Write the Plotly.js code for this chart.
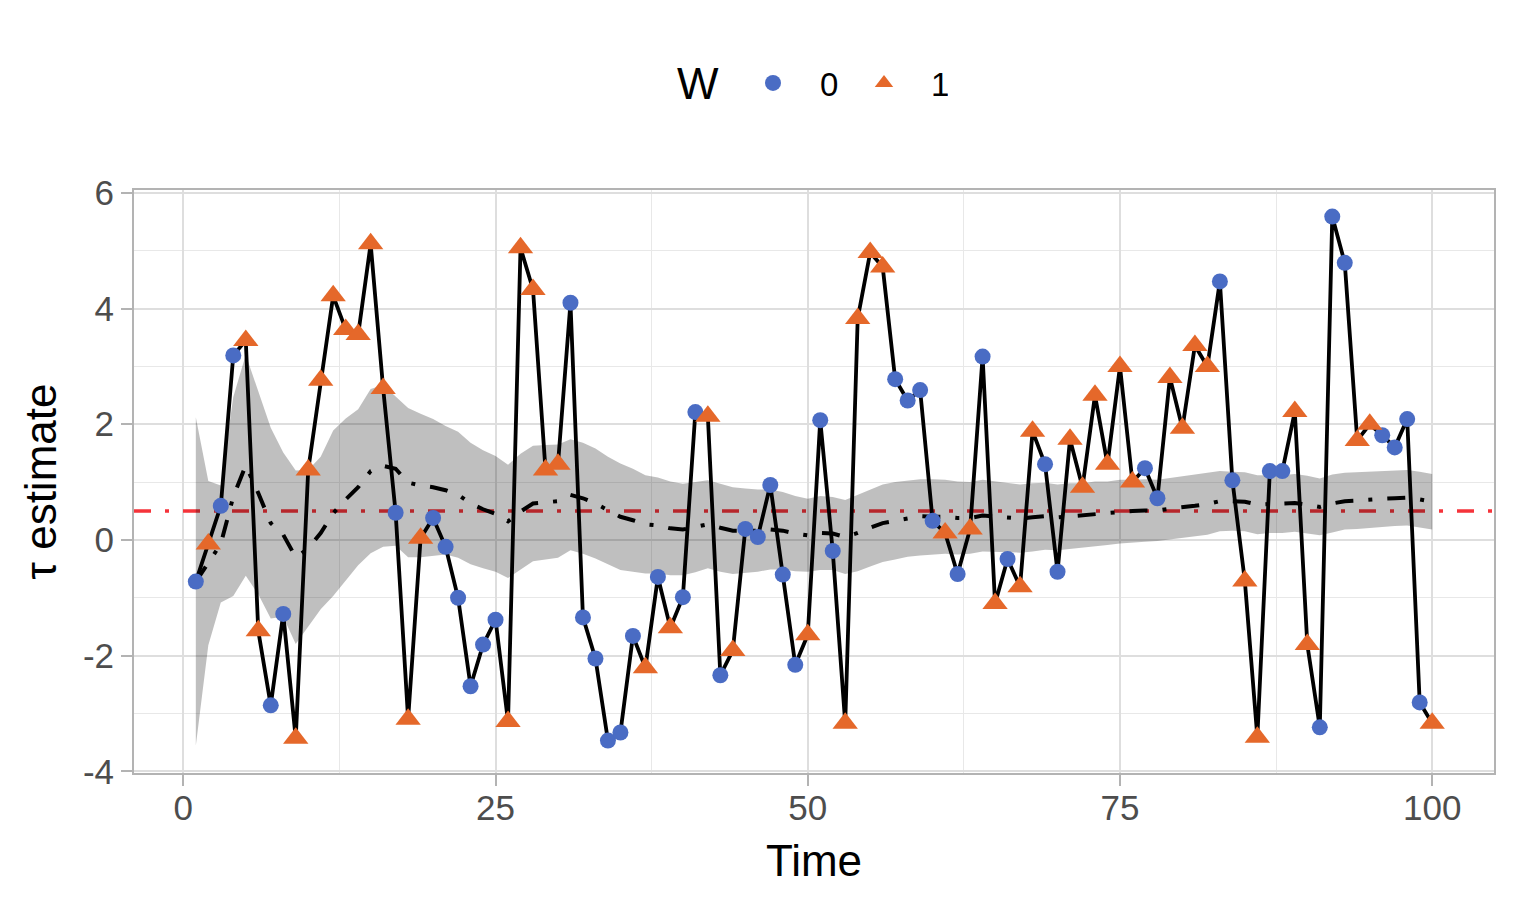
<!DOCTYPE html>
<html>
<head>
<meta charset="utf-8">
<script src="https://cdn.plot.ly/plotly-3.0.1.min.js"></script>
<style>
  body { margin: 0; background: #fff; }
  #plot { width: 1517px; height: 900px; }
</style>
</head>
<body>
<div id="plot"></div>
<script>
// time steps 1..100
var time = [];
for (var i = 1; i <= 100; i++) { time.push(i); }

// tau estimate at each step
var tauEst = [-0.72,-0.07,0.59,3.19,3.45,-1.57,-2.86,-1.28,-3.43,1.21,
  2.76,4.22,3.64,3.55,5.12,2.62,0.47,-3.10,0.03,0.38,
  -0.12,-1.00,-2.53,-1.81,-1.38,-3.14,5.05,4.33,1.21,1.31,
  4.10,-1.34,-2.05,-3.47,-3.33,-1.66,-2.21,-0.64,-1.52,-0.99,
  2.21,2.14,-2.34,-1.91,0.19,0.05,0.95,-0.60,-2.16,-1.64,
  2.07,-0.19,-3.17,3.83,4.97,4.72,2.78,2.41,2.59,0.33,
  0.12,-0.59,0.19,3.17,-1.10,-0.33,-0.81,1.88,1.31,-0.55,
  1.74,0.91,2.50,1.31,3.00,1.00,1.24,0.72,2.81,1.93,
  3.36,3.00,4.47,1.03,-0.71,-3.41,1.19,1.19,2.22,-1.81,
  -3.24,5.59,4.79,1.72,2.00,1.81,1.60,2.09,-2.81,-3.17];

// treatment W at each step
var treatW = [0,1,0,0,1,1,0,0,1,1,
  1,1,1,1,1,1,0,1,1,0,
  0,0,0,0,0,1,1,1,1,1,
  0,0,0,0,0,0,1,0,1,0,
  0,1,0,1,0,0,0,0,0,1,
  0,0,1,1,1,1,0,0,0,0,
  1,0,1,0,1,0,1,1,0,0,
  1,1,1,1,1,1,0,0,1,1,
  1,1,0,0,1,1,0,0,1,1,
  0,0,0,1,1,0,0,0,0,1];

// running mean (dash-dot) and band
var runMean = [-0.72,-0.40,-0.07,0.75,1.29,0.81,0.29,0.09,-0.30,-0.15,
  0.12,0.46,0.70,0.91,1.19,1.28,1.23,0.99,0.94,0.91,
  0.86,0.78,0.63,0.53,0.45,0.32,0.49,0.63,0.65,0.67,
  0.78,0.72,0.63,0.51,0.40,0.34,0.27,0.25,0.20,0.18,
  0.22,0.27,0.21,0.16,0.16,0.16,0.18,0.16,0.11,0.08,
  0.12,0.11,0.05,0.12,0.21,0.29,0.33,0.37,0.41,0.40,
  0.40,0.38,0.38,0.42,0.40,0.39,0.37,0.39,0.41,0.39,
  0.41,0.42,0.45,0.46,0.49,0.50,0.51,0.51,0.54,0.56,
  0.59,0.62,0.67,0.67,0.66,0.61,0.62,0.62,0.64,0.61,
  0.57,0.63,0.67,0.68,0.70,0.71,0.72,0.73,0.70,0.66];

var bandUpper = [2.12,1.02,0.94,2.47,3.20,2.56,1.94,1.51,1.20,1.21,
  1.44,1.89,2.10,2.26,2.61,2.68,2.48,2.28,2.18,2.09,
  1.97,1.87,1.68,1.55,1.45,1.30,1.49,1.63,1.64,1.65,
  1.74,1.68,1.58,1.44,1.32,1.23,1.12,1.08,1.01,0.97,
  1.00,1.03,0.97,0.91,0.89,0.87,0.87,0.83,0.76,0.71,
  0.76,0.74,0.69,0.78,0.88,0.96,1.00,1.03,1.05,1.05,
  1.04,1.01,1.00,1.04,1.01,0.99,0.96,0.98,0.99,0.96,
  0.98,0.98,1.01,1.01,1.04,1.04,1.05,1.04,1.07,1.09,
  1.12,1.15,1.19,1.18,1.17,1.12,1.12,1.12,1.14,1.11,
  1.06,1.13,1.16,1.17,1.19,1.19,1.20,1.21,1.18,1.14];

var bandLower = [-3.56,-1.82,-1.08,-0.97,-0.62,-0.94,-1.36,-1.33,-1.80,-1.51,
  -1.20,-0.97,-0.70,-0.44,-0.23,-0.12,-0.10,-0.30,-0.30,-0.27,
  -0.25,-0.31,-0.42,-0.49,-0.55,-0.66,-0.51,-0.37,-0.34,-0.31,
  -0.18,-0.24,-0.32,-0.42,-0.52,-0.55,-0.58,-0.58,-0.61,-0.61,
  -0.56,-0.49,-0.55,-0.59,-0.57,-0.55,-0.51,-0.51,-0.54,-0.55,
  -0.52,-0.52,-0.59,-0.54,-0.46,-0.38,-0.34,-0.29,-0.27,-0.25,
  -0.24,-0.25,-0.24,-0.20,-0.21,-0.21,-0.22,-0.20,-0.17,-0.18,
  -0.16,-0.14,-0.11,-0.09,-0.06,-0.04,-0.03,-0.02,0.01,0.03,
  0.06,0.09,0.15,0.16,0.15,0.10,0.12,0.12,0.14,0.11,
  0.08,0.13,0.18,0.19,0.21,0.23,0.24,0.25,0.22,0.18];

// true effect line
var trueTau = 0.5;
var xRange = [-3.95, 104.95];
var yRange = [-4.03, 6.05];
var xTicks = [0, 25, 50, 75, 100];
var yTicks = [-4, -2, 0, 2, 4, 6];
var yTickText = ['-4', '-2', '0', '2', '4', '6'];

var groupLabels = ['0', '1'];
var groupColors = ['#4a6cc4', '#e5682a'];
var groupSymbols = ['circle', 'triangle-up'];
var groupSizes = [16, 22];

var font = 'Liberation Sans, Arial, Helvetica, sans-serif';

var refTrace = {
    x: xRange,
    y: [trueTau, trueTau],
    mode: 'lines',
    line: { color: '#f5333a', width: 3.5, dash: '17px,14px,4px,14px' },
    showlegend: false,
    hoverinfo: 'skip'
};

var lowerTrace = {
    x: time,
    y: bandLower,
    mode: 'lines',
    line: { width: 0, color: 'rgba(0,0,0,0)' },
    showlegend: false,
    hoverinfo: 'skip'
};

var upperTrace = {
    x: time,
    y: bandUpper,
    mode: 'lines',
    fill: 'tonexty',
    fillcolor: 'rgba(0,0,0,0.25)',
    line: { width: 0, color: 'rgba(0,0,0,0)' },
    showlegend: false,
    hoverinfo: 'skip'
};

var meanTrace = {
    x: time,
    y: runMean,
    mode: 'lines',
    line: { color: '#000', width: 4, dash: '18px,15px,4px,15px' },
    showlegend: false
};

var estTrace = {
    x: time,
    y: tauEst,
    mode: 'lines',
    line: { color: '#000', width: 3.8 },
    showlegend: false
};

var data = [refTrace, lowerTrace, upperTrace, meanTrace, estTrace];

for (var g = 0; g < groupLabels.length; g++) {
    var gx = [], gy = [];
    for (var k = 0; k < time.length; k++) {
        if (String(treatW[k]) === groupLabels[g]) {
            gx.push(time[k]);
            gy.push(tauEst[k]);
        }
    }
    data.push({
        x: gx,
        y: gy,
        name: groupLabels[g],
        mode: 'markers',
        marker: { color: groupColors[g], symbol: groupSymbols[g], size: groupSizes[g] },
        showlegend: true
    });
}

var layout = {
    width: 1517,
    height: 900,
    margin: { l: 134, r: 23, t: 190, b: 127 },
    paper_bgcolor: '#fff',
    plot_bgcolor: '#fff',
    font: { family: font, color: '#000' },
    showlegend: true,
    legend: {
        orientation: 'h',
        traceorder: 'normal',
        x: (726 - 134) / 1360,
        xanchor: 'left',
        y: 1 + (190 - 83) / 583,
        yanchor: 'middle',
        font: { size: 33, color: '#000' },
        itemwidth: 84,
        entrywidth: 12
    },
    annotations: [{
        text: 'W',
        xref: 'paper', yref: 'paper',
        x: (698 - 134) / 1360, y: 1 + (190 - 83) / 583,
        xanchor: 'center', yanchor: 'middle',
        showarrow: false,
        font: { size: 44, color: '#000' }
    }],
    xaxis: {
        range: xRange,
        tickvals: xTicks,
        ticks: 'outside',
        ticklen: 11,
        tickwidth: 2,
        tickcolor: '#b3b3b3',
        tickfont: { size: 35, color: '#4d4d4d' },
        ticklabelstandoff: -8,
        showgrid: true,
        gridcolor: '#dedede',
        gridwidth: 2,
        minor: { tick0: 0, dtick: 12.5, showgrid: true, gridcolor: '#e8e8e8', gridwidth: 1, ticks: '' },
        zeroline: false,
        showline: true,
        mirror: true,
        linecolor: '#b3b3b3',
        linewidth: 2,
        title: { text: 'Time', font: { size: 44, color: '#000' }, standoff: 19 }
    },
    yaxis: {
        range: yRange,
        tickvals: yTicks,
        ticktext: yTickText,
        ticks: 'outside',
        ticklen: 11,
        tickwidth: 2,
        tickcolor: '#b3b3b3',
        tickfont: { size: 35, color: '#4d4d4d' },
        showgrid: true,
        gridcolor: '#dedede',
        gridwidth: 2,
        minor: { tick0: 0, dtick: 1, showgrid: true, gridcolor: '#e8e8e8', gridwidth: 1, ticks: '' },
        zeroline: false,
        showline: true,
        mirror: true,
        linecolor: '#b3b3b3',
        linewidth: 2,
        title: { text: 'τ estimate', font: { size: 44, color: '#000' }, standoff: 12 }
    }
};

var config = { staticPlot: true, responsive: false };

Plotly.newPlot('plot', data, layout, config);
</script>
</body>
</html>
